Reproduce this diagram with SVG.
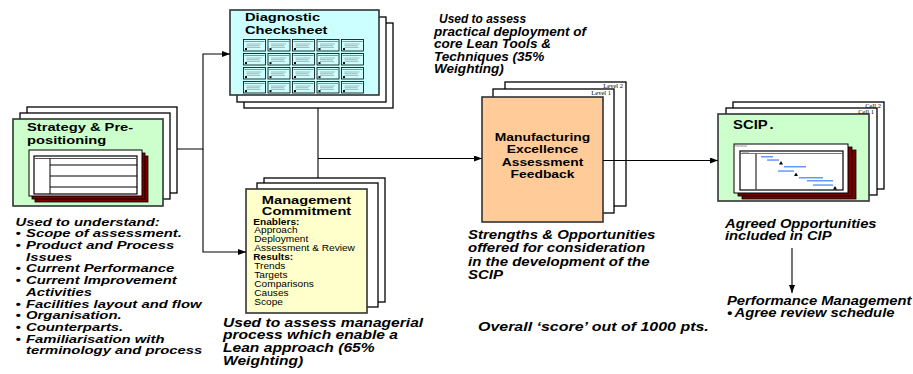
<svg xmlns="http://www.w3.org/2000/svg" xmlns:xlink="http://www.w3.org/1999/xlink" width="913" height="374" viewBox="0 0 913 374">
<style>
.page{fill:#fff;stroke:#000;stroke-width:1.3}
.front{stroke:#333;stroke-width:1.6}
.conn{fill:none;stroke:#000;stroke-width:1.1}
.t{font-family:"Liberation Sans",Arial,sans-serif;font-weight:bold;font-style:italic;fill:#000}
.b{font-family:"Liberation Sans",Arial,sans-serif;font-weight:bold;fill:#000}
.r{font-family:"Liberation Sans",Arial,sans-serif;fill:#000}
.lvl{font-family:"Liberation Serif","Times New Roman",serif;font-size:6.5px;fill:#000}
.red{fill:#7A0000;stroke:#000;stroke-width:0.8}
.bar{fill:#6699FF}
.gl{stroke:#777;stroke-width:0.5}
</style>
<defs>
<marker id="ah" viewBox="0 0 8 6" refX="8" refY="3" markerWidth="8" markerHeight="6" markerUnits="userSpaceOnUse" orient="auto"><path d="M0,0 L8,3 L0,6 z" fill="#000"/></marker>
<g id="cell">
<rect x="0" y="0" width="22" height="11.5" fill="#CCFFFF" stroke="#000" stroke-width="0.8"/>
<line x1="1" y1="2" x2="21" y2="2" stroke="#333" stroke-width="0.5"/>
<line x1="3" y1="4.5" x2="18" y2="4.5" class="gl"/>
<line x1="3" y1="6.2" x2="16" y2="6.2" class="gl"/>
<line x1="3" y1="7.9" x2="17" y2="7.9" class="gl"/>
<rect x="1.5" y="8.6" width="2" height="2" fill="#000"/>
</g>
</defs>

<g id="strategy">
<rect class="page" x="27" y="107" width="150" height="86"/>
<rect class="page" x="20" y="113" width="150" height="86"/>
<rect class="front" x="13" y="119" width="150" height="87" fill="#CCFFCC"/>
<text class="b" font-size="11.5" transform="translate(27,130.7) scale(1.28,1)"><tspan x="0">Strategy &amp; Pre-</tspan><tspan x="0" dy="13.3">positioning</tspan></text>
<rect class="red" x="35" y="156" width="113" height="46"/>
<rect class="red" x="32" y="153" width="113" height="46"/>
<rect x="29" y="150" width="113" height="46" fill="#fff" stroke="#000" stroke-width="1"/>
<rect x="34" y="156" width="103" height="38" fill="none" stroke="#000" stroke-width="1.2"/>
<line x1="34" y1="158.5" x2="137" y2="158.5" stroke="#555" stroke-width="1"/>
<line x1="50" y1="158.5" x2="50" y2="194" stroke="#000" stroke-width="1"/>
<line x1="50" y1="165" x2="137" y2="165" stroke="#000" stroke-width="1"/>
<line x1="50" y1="176" x2="137" y2="176" stroke="#000" stroke-width="1"/>
<line x1="50" y1="187" x2="137" y2="187" stroke="#000" stroke-width="1"/>
</g>

<g id="diagnostic">
<rect class="page" x="244" y="23" width="149" height="85"/>
<rect class="page" x="237" y="17" width="149" height="85"/>
<rect class="front" x="230" y="10" width="149" height="85" fill="#CCFFFF"/>
<text class="b" font-size="11.5" transform="translate(245,20.7) scale(1.28,1)"><tspan x="0">Diagnostic</tspan><tspan x="0" dy="13.6">Checksheet</tspan></text>
<use xlink:href="#cell" x="243.5" y="39.5"/><use xlink:href="#cell" x="268" y="39.5"/><use xlink:href="#cell" x="292.5" y="39.5"/><use xlink:href="#cell" x="317" y="39.5"/><use xlink:href="#cell" x="341.5" y="39.5"/>
<use xlink:href="#cell" x="243.5" y="53.5"/><use xlink:href="#cell" x="268" y="53.5"/><use xlink:href="#cell" x="292.5" y="53.5"/><use xlink:href="#cell" x="317" y="53.5"/><use xlink:href="#cell" x="341.5" y="53.5"/>
<use xlink:href="#cell" x="243.5" y="67.5"/><use xlink:href="#cell" x="268" y="67.5"/><use xlink:href="#cell" x="292.5" y="67.5"/><use xlink:href="#cell" x="317" y="67.5"/><use xlink:href="#cell" x="341.5" y="67.5"/>
<use xlink:href="#cell" x="243.5" y="81.5"/><use xlink:href="#cell" x="268" y="81.5"/><use xlink:href="#cell" x="292.5" y="81.5"/><use xlink:href="#cell" x="317" y="81.5"/><use xlink:href="#cell" x="341.5" y="81.5"/>
</g>

<g id="management">
<rect class="page" x="264" y="178" width="121" height="124"/>
<rect class="page" x="257" y="183" width="121" height="124"/>
<rect class="front" x="246" y="189" width="121" height="124" fill="#FFFFCC"/>
<text class="b" font-size="11" text-anchor="middle" transform="translate(306.5,204) scale(1.33,1)"><tspan x="0">Management</tspan><tspan x="0" dy="11.5">Commitment</tspan></text>
<text class="r" font-size="8.3" transform="translate(253.3,224.5) scale(1.22,1)"><tspan x="0" font-weight="bold">Enablers:</tspan><tspan x="0.8" dy="9">Approach</tspan><tspan x="0.8" dy="9">Deployment</tspan><tspan x="0.8" dy="9">Assessment &amp; Review</tspan><tspan x="0" dy="9" font-weight="bold">Results:</tspan><tspan x="0.8" dy="9">Trends</tspan><tspan x="0.8" dy="9">Targets</tspan><tspan x="0.8" dy="9">Comparisons</tspan><tspan x="0.8" dy="9">Causes</tspan><tspan x="0.8" dy="9">Scope</tspan></text>
</g>

<g id="feedback">
<rect class="page" x="505" y="82" width="121" height="124"/>
<rect class="page" x="493" y="89" width="121" height="124"/>
<rect class="front" x="482" y="97" width="121" height="125" fill="#FFCC99"/>
<text class="lvl" x="623" y="87.5" text-anchor="end">Level 2</text>
<text class="lvl" x="611" y="95" text-anchor="end">Level 1</text>
<text class="b" font-size="11" text-anchor="middle" transform="translate(542.5,140.7) scale(1.26,1)"><tspan x="0">Manufacturing</tspan><tspan x="0" dy="12.5">Excellence</tspan><tspan x="0" dy="12.5">Assessment</tspan><tspan x="0" dy="12.5">Feedback</tspan></text>
</g>

<g id="scip">
<rect class="page" x="733" y="102" width="151" height="87"/>
<rect class="page" x="726" y="108" width="151" height="87"/>
<rect class="front" x="718" y="114" width="151" height="87" fill="#CCFFCC"/>
<text class="lvl" x="881" y="107.5" text-anchor="end">Cell 2</text>
<text class="lvl" x="874" y="113.5" text-anchor="end">Cell 1</text>
<text class="b" font-size="12" transform="translate(733,129) scale(1.24,1)">SCIP<tspan dx="1.5">.</tspan></text>
<rect class="red" x="742" y="150" width="114" height="49"/>
<rect class="red" x="738" y="147" width="114" height="49"/>
<rect x="734" y="144" width="114" height="49" fill="#fff" stroke="#000" stroke-width="1"/>
<line x1="735" y1="146" x2="747" y2="146" stroke="#999" stroke-width="1"/>
<rect x="740" y="151" width="103" height="39" fill="none" stroke="#000" stroke-width="1.2"/>
<line x1="740" y1="153.5" x2="843" y2="153.5" stroke="#555" stroke-width="0.8"/>
<line x1="742" y1="152.3" x2="749" y2="152.3" stroke="#999" stroke-width="0.8"/>
<line x1="756" y1="153.5" x2="756" y2="190" stroke="#555" stroke-width="1.5"/>
<rect class="bar" x="761" y="156" width="12" height="1.5"/>
<rect class="bar" x="767" y="159.3" width="12" height="1.5"/>
<rect class="bar" x="784" y="166" width="22" height="1.5"/>
<rect class="bar" x="778" y="170.3" width="16" height="1.5"/>
<rect class="bar" x="799" y="177" width="24" height="1.5"/>
<rect class="bar" x="807" y="180" width="26" height="1.5"/>
<rect class="bar" x="813" y="184.3" width="20" height="1.5"/>
<path d="M779,164.5 L781,161 L783,164.5 z M794,176 L796,172.5 L798,176 z M833,189.5 L835,186 L837,189.5 z" fill="#000"/>
</g>

<g id="labels">
<text class="t" font-size="11" transform="translate(15.5,225.7) scale(1.35,1)"><tspan x="0">Used to understand:</tspan><tspan x="0" dy="11.7">•</tspan><tspan x="7.8">Scope of assessment.</tspan><tspan x="0" dy="11.7">•</tspan><tspan x="7.8">Product and Process</tspan><tspan x="7.8" dy="11.7">Issues</tspan><tspan x="0" dy="11.7">•</tspan><tspan x="7.8">Current Performance</tspan><tspan x="0" dy="11.7">•</tspan><tspan x="7.8">Current Improvement</tspan><tspan x="7.8" dy="11.7">Activities</tspan><tspan x="0" dy="11.7">•</tspan><tspan x="7.8">Facilities layout and flow</tspan><tspan x="0" dy="11.7">•</tspan><tspan x="7.8">Organisation.</tspan><tspan x="0" dy="11.7">•</tspan><tspan x="7.8">Counterparts.</tspan><tspan x="0" dy="11.7">•</tspan><tspan x="7.8">Familiarisation with</tspan><tspan x="7.8" dy="11.7">terminology and process</tspan></text>
<text class="t" font-size="12" transform="translate(434,23) scale(1.13,1)"><tspan x="4.5" textLength="77" lengthAdjust="spacingAndGlyphs">Used to assess</tspan><tspan x="0" dy="12.6">practical deployment of</tspan><tspan x="0" dy="12.6">core Lean Tools &amp;</tspan><tspan x="0" dy="12.6">Techniques (35%</tspan><tspan x="0" dy="12.6">Weighting)</tspan></text>
<text class="t" font-size="12" transform="translate(223,326.7) scale(1.3,1)"><tspan x="0">Used to assess managerial</tspan><tspan x="0" dy="12.8">process which enable a</tspan><tspan x="0" dy="12.8">Lean approach (65%</tspan><tspan x="0" dy="12.8">Weighting)</tspan></text>
<text class="t" font-size="12" transform="translate(468,238.7) scale(1.25,1)"><tspan x="0">Strengths &amp; Opportunities</tspan><tspan x="0" dy="13.5">offered for consideration</tspan><tspan x="0" dy="13.5">in the development of the</tspan><tspan x="0" dy="13.5">SCIP</tspan></text>
<text class="t" font-size="12" transform="translate(725,228) scale(1.23,1)"><tspan x="0">Agreed Opportunities</tspan><tspan x="0" dy="12">included in CIP</tspan></text>
<text class="t" font-size="12" transform="translate(727,305) scale(1.23,1)"><tspan x="0">Performance Management</tspan><tspan x="0" dy="11.7">•</tspan><tspan x="6.2">Agree review schedule</tspan></text>
<text class="t" font-size="12" transform="translate(478,331) scale(1.33,1)">Overall ‘score’ out of 1000 pts.</text>
</g>

<g id="connectors">
<path class="conn" d="M177,149 H203 V54 H230" marker-end="url(#ah)"/>
<path class="conn" d="M203,149 V252 H246" marker-end="url(#ah)"/>
<path class="conn" d="M318,108 V178"/>
<path class="conn" d="M318,158.5 H482" marker-end="url(#ah)"/>
<path class="conn" d="M603,160.5 H718" marker-end="url(#ah)"/>
<path class="conn" d="M792,248 V293" marker-end="url(#ah)"/>
</g>
</svg>
